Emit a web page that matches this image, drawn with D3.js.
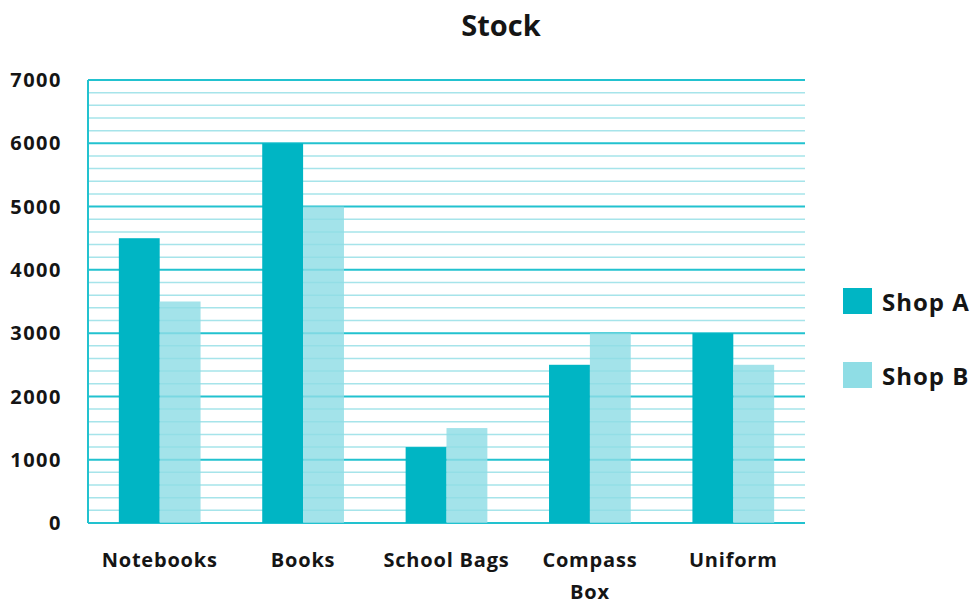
<!DOCTYPE html>
<html>
<head>
<meta charset="utf-8">
<script src="https://cdn.jsdelivr.net/npm/d3@7"></script>
<style>
  body { margin: 0; background: #fff; }
  text { font-family: "Open Sans", sans-serif; font-weight: 700; fill: #151515; }
</style>
</head>
<body>
<svg width="979" height="605"></svg>
<script>
const categories = ['Notebooks', 'Books', 'School Bags', 'Compass Box', 'Uniform']
const shopA = [4500, 6000, 1200, 2500, 3000]
const shopB = [3500, 5000, 1500, 3000, 2500]
const seriesNames = ['Shop A', 'Shop B']
const yTicks = [0, 1000, 2000, 3000, 4000, 5000, 6000, 7000]

const svg = d3.select('svg')
const margin = { left: 88, right: 174, top: 80, bottom: 82 }
const width = +svg.attr('width')
const height = +svg.attr('height')

const x = d3.scaleBand()
  .domain(categories)
  .range([margin.left, width - margin.right])
  .paddingInner(0.43)
  .paddingOuter(0.215)

const sub = d3.scaleBand()
  .domain(seriesNames)
  .range([0, x.bandwidth()])

const y = d3.scaleLinear()
  .domain([0, 7000])
  .range([height - margin.bottom, margin.top])

const colors = { 'Shop A': '#00b5c4', 'Shop B': '#8fdde5' }

// title
svg.append('text')
  .attr('x', 501).attr('y', 36)
  .attr('text-anchor', 'middle')
  .style('font-size', '29px')
  .text('Stock')

// minor grid every 200
const minor = d3.range(200, 7000, 200).filter(v => v % 1000 !== 0)
svg.append('g')
  .selectAll('line')
  .data(minor)
  .enter().append('line')
    .attr('x1', margin.left).attr('x2', width - margin.right)
    .attr('y1', d => y(d)).attr('y2', d => y(d))
    .attr('stroke', '#a6e4ea')
    .attr('stroke-width', 1.5)

svg.append('g')
  .selectAll('line')
  .data(yTicks)
  .enter().append('line')
    .attr('x1', margin.left).attr('x2', width - margin.right)
    .attr('y1', d => y(d)).attr('y2', d => y(d))
    .attr('stroke', '#22c2cf')
    .attr('stroke-width', 2)

svg.append('line')
  .attr('x1', margin.left).attr('x2', margin.left)
  .attr('y1', y(0)).attr('y2', y(7000))
  .attr('stroke', '#22c2cf')
  .attr('stroke-width', 2)

// bars
const rows = categories.map((c, i) => ({ cat: c, vals: [shopA[i], shopB[i]] }))
const groups = svg.append('g')
  .selectAll('g')
  .data(rows)
  .enter().append('g')
    .attr('transform', d => `translate(${x(d.cat)},0)`)

groups.selectAll('rect')
  .data(d => d.vals.map((v, j) => ({ name: seriesNames[j], v })))
  .enter().append('rect')
    .attr('x', d => sub(d.name))
    .attr('width', sub.bandwidth())
    .attr('y', d => y(d.v))
    .attr('height', d => y(0) - y(d.v))
    .attr('fill', d => colors[d.name])
    .attr('fill-opacity', d => d.name === 'Shop B' ? 0.82 : 1)

// y labels
svg.append('g')
  .selectAll('text')
  .data(yTicks)
  .enter().append('text')
    .attr('x', 62)
    .attr('y', d => y(d))
    .attr('dy', '0.36em')
    .attr('text-anchor', 'end')
    .style('font-size', '20px')
    .style('letter-spacing', '1.5px')
    .text(d => d)

// x labels
const xLabels = svg.append('g')
  .selectAll('text')
  .data(categories)
  .enter().append('text')
    .attr('x', d => x(d) + x.bandwidth() / 2)
    .attr('y', 567)
    .attr('text-anchor', 'middle')
    .style('font-size', '20px')
    .style('letter-spacing', '0.8px')

xLabels.each(function(d) {
  const t = d3.select(this)
  const parts = d === 'Compass Box' ? ['Compass', 'Box'] : [d]
  parts.forEach((p, i) => {
    t.append('tspan')
      .attr('x', x(d) + x.bandwidth() / 2)
      .attr('dy', i === 0 ? 0 : 32)
      .text(p)
  })
})

// legend
const legend = svg.append('g')
  .selectAll('g')
  .data(seriesNames)
  .enter().append('g')
    .attr('transform', (d, i) => `translate(843,${288 + i * 74})`)

legend.append('rect')
  .attr('width', 29).attr('height', 26)
  .attr('fill', d => colors[d])

legend.append('text')
  .attr('x', 39).attr('y', 14)
  .attr('dy', '0.36em')
  .style('font-size', '24px')
  .style('letter-spacing', '1px')
  .text(d => d)
</script>
</body>
</html>
